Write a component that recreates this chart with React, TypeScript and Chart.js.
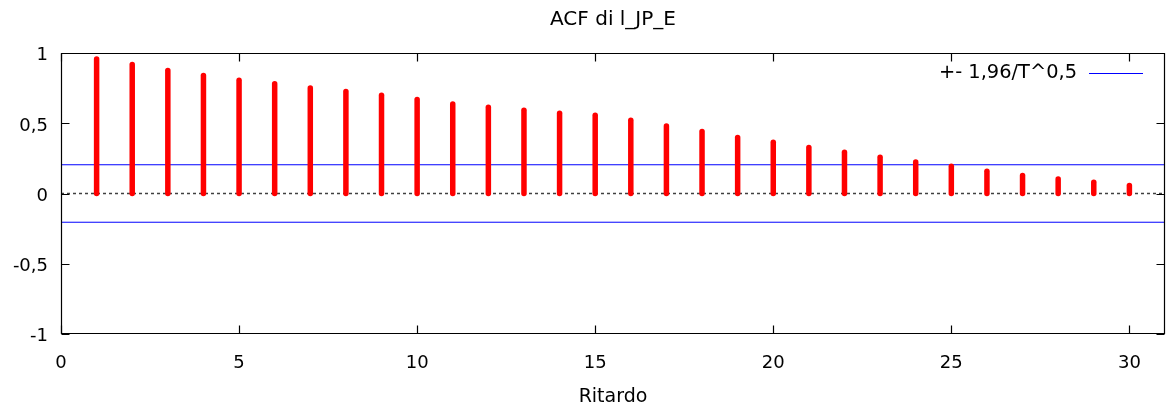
import React, { useEffect, useRef } from "react";
import { Chart, registerables } from "chart.js";

Chart.register(...registerables);

const titleText = "ACF di l_JP_E";
const xTitle = "Ritardo";
const legendLabel = "+- 1,96/T^0,5";
const lags = [1, 2, 3, 4, 5, 6, 7, 8, 9, 10, 11, 12, 13, 14, 15, 16, 17, 18, 19, 20, 21, 22, 23, 24, 25, 26, 27, 28, 29, 30];
const acfValues = [0.960, 0.920, 0.877, 0.842, 0.808, 0.782, 0.753, 0.728, 0.701, 0.670, 0.639, 0.616, 0.594, 0.573, 0.558, 0.523, 0.482, 0.442, 0.399, 0.366, 0.328, 0.295, 0.259, 0.225, 0.195, 0.159, 0.128, 0.104, 0.081, 0.057];
const bandValue = 0.205;
const xTicks = [0, 5, 10, 15, 20, 25, 30];
const yTicks = [-1, -0.5, 0, 0.5, 1];
const xRange = [0, 31];
const yRange = [-1, 1];

const FONT = "'DejaVu Sans', Verdana, sans-serif";

const framePlugin = {
  id: "frameTicks",
  afterDatasetsDraw(chart: any) {
    const { ctx, chartArea: a, scales } = chart;
    // stems
    const meta = chart.getDatasetMeta(3);
    const y0 = scales.y.getPixelForValue(0);
    ctx.save();
    ctx.strokeStyle = "#ff0000";
    ctx.lineWidth = 5.5;
    ctx.lineCap = "round";
    meta.data.forEach((pt: any) => {
      ctx.beginPath();
      ctx.moveTo(pt.x, y0);
      ctx.lineTo(pt.x, pt.y);
      ctx.stroke();
    });
    ctx.restore();

    // frame + inward ticks
    ctx.save();
    ctx.strokeStyle = "#000";
    ctx.lineWidth = 1.2;
    const L = Math.round(a.left) + 0.5;
    const R = Math.round(a.right) - 0.5;
    const T = Math.round(a.top) + 0.5;
    const B = Math.round(a.bottom) - 0.5;
    ctx.beginPath();
    ctx.rect(L, T, R - L, B - T);
    ctx.stroke();
    ctx.beginPath();
    xTicks.forEach((v) => {
      const x = Math.round(scales.x.getPixelForValue(v)) + 0.5;
      ctx.moveTo(x, B);
      ctx.lineTo(x, B - 8);
      ctx.moveTo(x, T);
      ctx.lineTo(x, T + 8);
    });
    yTicks.forEach((v) => {
      const y = Math.round(scales.y.getPixelForValue(v)) + 0.5;
      ctx.moveTo(L, y);
      ctx.lineTo(L + 8, y);
      ctx.moveTo(R, y);
      ctx.lineTo(R - 8, y);
    });
    ctx.stroke();

    // title centred over the plot area
    ctx.fillStyle = "#000";
    ctx.font = `20px ${FONT}`;
    ctx.textAlign = "center";
    ctx.textBaseline = "middle";
    ctx.fillText(titleText, (a.left + a.right) / 2, 20);

    // legend
    const ly = a.top + 20;
    ctx.font = `19.4px ${FONT}`;
    ctx.textAlign = "right";
    ctx.textBaseline = "middle";
    ctx.fillText(legendLabel, a.right - 88, ly);
    ctx.strokeStyle = "#0000ff";
    ctx.lineWidth = 1.2;
    ctx.beginPath();
    ctx.moveTo(a.right - 76, Math.round(ly) + 0.5);
    ctx.lineTo(a.right - 22, Math.round(ly) + 0.5);
    ctx.stroke();
    ctx.restore();
  },
};

export default function App() {
  const ref = useRef<HTMLCanvasElement>(null);
  useEffect(() => {
    if (!ref.current) return;
    const chart = new Chart(ref.current, {
      type: "line",
      data: {
        datasets: [
          {
            label: "zero",
            data: [{ x: xRange[0], y: 0 }, { x: xRange[1], y: 0 }],
            borderColor: "#404040",
            borderWidth: 1.5,
            borderDash: [3, 3],
            pointRadius: 0,
          },
          {
            label: legendLabel,
            data: [{ x: xRange[0], y: bandValue }, { x: xRange[1], y: bandValue }],
            borderColor: "#0000ff",
            borderWidth: 1,
            pointRadius: 0,
          },
          {
            label: "lower",
            data: [{ x: xRange[0], y: -bandValue }, { x: xRange[1], y: -bandValue }],
            borderColor: "#0000ff",
            borderWidth: 1,
            pointRadius: 0,
          },
          {
            label: "ACF",
            data: lags.map((l, i) => ({ x: l, y: acfValues[i] })),
            showLine: false,
            pointRadius: 0,
            borderColor: "#ff0000",
          },
        ],
      },
      options: {
        responsive: false,
        animation: false,
        layout: { padding: { left: 0, right: 7, top: 53.3, bottom: 0 } },
        plugins: {
          legend: { display: false },
          tooltip: { enabled: false },
          title: { display: false },
        },
        scales: {
          x: {
            type: "linear",
            min: xRange[0],
            max: xRange[1],
            afterBuildTicks: (s: any) => {
              s.ticks = xTicks.map((v) => ({ value: v }));
            },
            afterFit: (s: any) => {
              s.height = 78.3;
            },
            grid: { display: false, drawTicks: false },
            border: { display: false },
            ticks: {
              color: "#000",
              font: { family: FONT, size: 18 },
              padding: 19,
              maxRotation: 0,
              callback: (v: any) => String(v),
            },
            title: {
              display: true,
              text: xTitle,
              color: "#000",
              font: { family: FONT, size: 19 },
              padding: { top: 0, bottom: 3.5 },
            },
          },
          y: {
            type: "linear",
            min: yRange[0],
            max: yRange[1],
            afterBuildTicks: (s: any) => {
              s.ticks = yTicks.map((v) => ({ value: v }));
            },
            afterFit: (s: any) => {
              s.width = 61;
            },
            grid: { display: false, drawTicks: false },
            border: { display: false },
            ticks: {
              color: "#000",
              font: { family: FONT, size: 18 },
              padding: 13,
              labelOffset: 2.5,
              callback: (v: any) => String(v).replace(".", ","),
            },
          },
        },
      },
      plugins: [framePlugin],
    } as any);
    return () => chart.destroy();
  }, []);
  return (
    <div style={{ position: "fixed", left: 0, top: 0, width: 1172, height: 412, background: "#fff" }}>
      <canvas ref={ref} width={1172} height={412} />
    </div>
  );
}
